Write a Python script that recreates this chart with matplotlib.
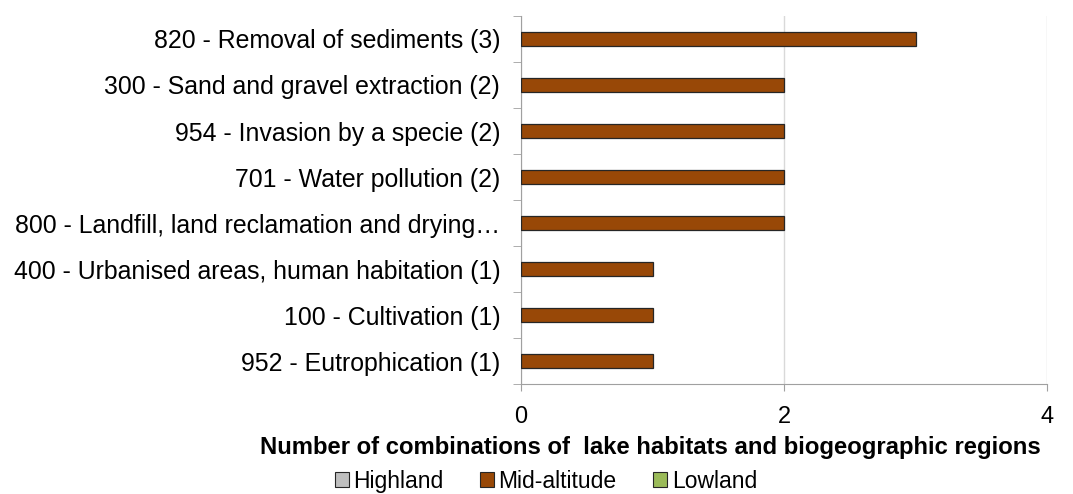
import matplotlib.pyplot as plt
import matplotlib.patches as mpatches
import numpy as np

plt.rcParams['font.family'] = ['Liberation Sans', 'DejaVu Sans']

# donnees
categories = [
    "820 - Removal of sediments (3)",
    "300 - Sand and gravel extraction (2)",
    "954 - Invasion by a specie (2)",
    "701 - Water pollution (2)",
    "800 - Landfill, land reclamation and drying…",
    "400 - Urbanised areas, human habitation (1)",
    "100 - Cultivation (1)",
    "952 - Eutrophication (1)",
]
highland = [0, 0, 0, 0, 0, 0, 0, 0]
mid_altitude = [3, 2, 2, 2, 2, 1, 1, 1]
lowland = [0, 0, 0, 0, 0, 0, 0, 0]

series = [("Highland", highland, "#BFBFBF", 0.3),
          ("Mid-altitude", mid_altitude, "#984807", 0.0),
          ("Lowland", lowland, "#9BBB59", -0.3)]

fig = plt.figure(figsize=(10.73, 4.94), dpi=100)
ax = fig.add_axes([521/1073, 1-384/494, (1047-521)/1073, (384-16)/494])

y = np.arange(len(categories))[::-1]
for name, vals, col, off in series:
    lw = [0.9 if v > 0 else 0 for v in vals]
    ax.barh(y + off, vals, height=0.3, color=col, edgecolor='#262626', linewidth=lw, zorder=3)

ax.set_xlim(0, 4)
ax.set_ylim(-0.5, len(categories) - 0.5)
ax.set_xticks([0, 2, 4])
ax.tick_params(axis='x', labelsize=17, length=5, color='#A0A0A0', pad=11)
ax.set_yticks(y)
ax.set_yticklabels(categories, fontsize=17.9)
ax.tick_params(axis='y', length=0, pad=15)
ax.set_yticks(np.arange(len(categories) + 1) - 0.5, minor=True)
ax.tick_params(axis='y', which='minor', length=6, color='#A0A0A0')
ax.grid(axis='x', color='#D9D9D9', linewidth=1, zorder=0)

for s in ['top', 'right']:
    ax.spines[s].set_visible(False)
ax.spines['left'].set_color('#A0A0A0')
ax.spines['bottom'].set_color('#A0A0A0')

fig.text(650/1073, 1-447/494, "Number of combinations of  lake habitats and biogeographic regions",
         ha='center', va='center', fontsize=17.2, fontweight='bold')

handles = [mpatches.Patch(facecolor=c, edgecolor='#262626', linewidth=0.8, label=n)
           for n, v, c, o in series]
fig.legend(handles=handles, loc='center', bbox_to_anchor=(546/1073, 1-481/494), ncol=3,
           frameon=False, fontsize=16.5, handlelength=0.6, handleheight=0.6,
           handletextpad=0.2, columnspacing=1.6, borderpad=0)

plt.savefig("out.png", dpi=100)
